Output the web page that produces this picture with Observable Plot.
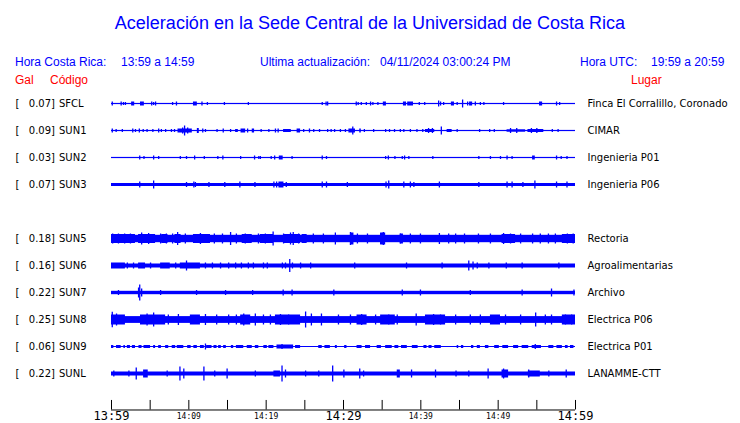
<!DOCTYPE html>
<html>
<head>
<meta charset="utf-8">
<script src="https://cdn.jsdelivr.net/npm/d3@7"></script>
<script src="https://cdn.jsdelivr.net/npm/@observablehq/plot@0.6"></script>
<style>
  html, body { margin: 0; padding: 0; background: #fff; }
  #page { position: relative; width: 740px; height: 423px; overflow: hidden; background: #fff; }
  .hdr { position: absolute; white-space: pre; font-family: "Liberation Sans", Arial, sans-serif; font-size: 12px; line-height: 12px; color: #0000ff; }
  .red { color: #ff0000; }
  #title { position: absolute; left: 0; width: 740px; text-align: center; top: 14px; font-family: "Liberation Sans", Arial, sans-serif; font-size: 18px; line-height: 18px; color: #0000ff; }
  #chart { position: absolute; left: 0; top: 90px; }
</style>
</head>
<body>
<div id="page">
  <div id="title"></div>
  <div id="chart"></div>
</div>
<script>
// ---- texts ----
const titleText = "Aceleración en la Sede Central de la Universidad de Costa Rica";
const localLabel = "Hora Costa Rica:";
const localRange = "13:59 a 14:59";
const updateLabel = "Ultima actualización:";
const updateValue = "04/11/2024 03:00:24 PM";
const utcLabel = "Hora UTC:";
const utcRange = "19:59 a 20:59";
const colGal = "Gal", colCode = "Código", colPlace = "Lugar";

// ---- stations ----
const codes  = ["SFCL", "SUN1", "SUN2", "SUN3", "SUN5", "SUN6", "SUN7", "SUN8", "SUN9", "SUNL"];
const places = ["Finca El Corralillo, Coronado", "CIMAR", "Ingenieria P01", "Ingenieria P06",
                "Rectoria", "Agroalimentarias", "Archivo", "Electrica P06", "Electrica P01", "LANAMME-CTT"];
const galMax = [0.07, 0.09, 0.03, 0.07, 0.18, 0.16, 0.22, 0.25, 0.06, 0.22];
const rowIndex = [0, 1, 2, 3, 5, 6, 7, 8, 9, 10];
// background noise half-amplitude of each trace (relative units, 27 = one row)
const noiseAmp = [0.6, 0.6, 0.6, 1.5, 3.7, 2, 1.7, 3.4, 0.5, 2];

// ---- envelope events: [minute, amp] spike or [minuteStart, minuteEnd, amp] burst ----
const evSFCL = [[0.1,2],[1.25,2],[1.55,1.5],[1.8,1.5],[2.6,3.0,2],[3.75,4.25,2],[5.2,2],[5.45,1.5],[5.7,2],[7.9,1.5],[8.4,2],[10.6,11.1,2],[11.7,2],[12.4,1.5],[14.6,1.5],[17.7,1.5],[27.25,1.5],[27.75,2],[27.95,2],[31.65,2],[31.9,1.5],[32.3,1.5],[32.95,1.5],[33.5,2],[33.8,1.5],[34.45,1.5],[35.15,35.55,2],[37.75,38.15,2],[38.3,39.05,2],[39.8,1.5],[40.5,1.5],[42.3,3],[42.55,2],[42.95,1.5],[43.95,44.35,2],[44.7,1.5],[45.4,4],[46.05,2],[46.3,46.7,2],[47.05,2],[47.7,1.5],[48.15,1.5],[50.7,1.5],[55.35,55.75,2],[57.55,2],[57.95,1.5]];
const evSUN1 = [[0.1,2],[0.6,1.5],[1.4,1.5],[2.75,2],[3.1,1.5],[3.6,2],[4.1,1.5],[4.6,1.5],[5.35,1.5],[6.1,2],[6.45,1.5],[7.0,1.5],[7.75,1.5],[8.15,1.5],[8.6,10.45,2],[9.45,5],[9.2,3],[9.85,3],[11.1,11.35,2.5],[11.8,2],[12.15,1.5],[13.65,1.5],[14.45,2],[15.4,1.5],[16.05,16.4,1.5],[16.75,17.35,2],[17.6,2],[18.2,18.5,2],[19.35,1.5],[20.35,1.5],[21.2,2],[21.55,2],[22.25,23.25,1.5],[24.0,24.45,2],[24.85,1.5],[25.6,2],[26.15,1.5],[26.9,1.5],[27.95,1.5],[28.4,1.5],[28.85,1.5],[29.6,1.5],[30.25,1.5],[30.7,31.55,2],[31.2,4],[32.1,32.3,2],[32.7,1.5],[33.9,1.5],[35.45,1.5],[35.95,1.5],[36.6,1.5],[37.35,1.5],[37.8,1.5],[38.65,1.5],[39.5,1.5],[40.25,1.5],[40.6,41.8,1.5],[41.0,2.5],[41.5,2.5],[42.65,4],[43.4,44.05,1.5],[44.7,1.5],[47.6,1.5],[48.9,1.5],[49.5,1.5],[51.15,53.55,1.2],[51.6,2.5],[52.4,2.5],[53.85,55.9,1.5],[54.3,2.5],[55.0,2.5],[57.0,1.5],[57.75,1.5]];
const evSUN2 = [[3.65,2],[4.2,1.5],[5.45,2],[6.1,1.5],[8.9,1.5],[9.7,1.5],[10.75,2],[12.0,1.5],[13.75,1.5],[14.4,2],[16.7,1.5],[18.5,2],[19.05,1.5],[19.25,1.5],[20.65,1.5],[21.1,2],[21.7,22.2,2],[23.35,1.5],[27.25,2],[27.8,1.5],[35.45,1.5],[35.8,2],[36.65,1.5],[37.6,1.5],[37.9,2],[38.45,1.5],[41.55,1.5],[47.5,1.5],[49.0,1.5],[50.3,1.5],[51.15,2],[51.8,1.5],[54.45,54.8,2],[57.55,2],[58.15,1.5],[58.9,1.5]];
const evSUN3 = [[3.65,3],[5.45,4],[9.7,2.5],[10.65,3],[10.85,2.5],[12.6,2.5],[14.65,2.5],[16.6,3],[18.55,2.5],[21.0,3],[21.35,3],[21.65,22.3,3],[22.6,2.5],[27.25,3],[27.8,3],[30.5,2.5],[35.5,3],[35.85,4],[37.8,3],[38.65,3],[39.1,2.5],[42.4,3],[47.5,2.5],[51.15,3],[51.8,3],[53.2,2.5],[54.75,4],[57.55,3],[58.9,3]];
const evSUN5 = [[0,3.1,4.5],[3.5,5.7,4.5],[6.5,7.3,4.5],[8.2,9.0,4.5],[10.6,12.8,4.5],[16.9,18.2,4.5],[19.25,20.95,4.5],[22.25,24.45,4.5],[24.65,25.3,4.5],[30.9,31.35,6],[34.8,35.45,6],[37.35,37.75,5],[50.5,52.25,4.5],[58.3,60,4.5],[0.15,5],[0.9,5],[1.7,5],[2.45,5],[3.9,6],[4.8,5.5],[6.35,5],[7.1,5],[7.9,5],[8.55,6.5],[9.55,5],[11.5,5.5],[13.3,5],[14.35,5],[15.4,6.5],[16.15,5],[17.3,5],[19.0,5],[19.9,5],[20.9,7],[22.25,5],[23.15,6],[23.5,6.5],[24.2,5],[26.1,5],[27.4,5],[28.95,6],[30.9,6.5],[31.8,5],[33.1,5],[34.8,5.5],[35.15,6.5],[37.35,5],[38.65,5],[39.95,5],[42.4,5.5],[43.6,5],[44.5,5],[45.65,5],[47.45,5],[49.0,5],[50.7,5.5],[51.6,5],[52.9,5],[54.45,5],[55.45,5],[56.5,5],[57.4,5],[58.95,5],[59.7,5]];
const evSUN6 = [[0,1.8,3],[3.5,4.4,3],[6.35,7.6,3],[8.9,11.5,3],[2.05,3],[2.85,3],[5.05,3],[8.3,3],[12.15,3],[13.05,3],[14.1,3],[15.15,3],[16.05,3],[16.8,3],[17.7,3],[18.35,3],[19.65,3],[20.15,3],[22.1,3],[22.5,3],[23.4,3],[24.45,3],[25.75,3],[31.45,3],[38.15,3],[42.75,3],[48.8,3],[51.05,3],[53.1,3],[57.85,3],[9.7,5],[23.05,6.5],[46.2,5],[46.75,4],[47.3,3]];
const evSUN7 = [[3.65,8],[3.5,5],[3.9,4],[0.9,2.5],[6.35,2.5],[11.0,2.5],[14.75,2.5],[18.25,2.5],[22.2,3],[23.35,3],[28.75,3],[37.6,3],[39.95,3],[46.4,2.5],[53.1,3],[56.9,4],[59.8,3]];
const evSUN8 = [[0,1.8,5],[3.75,7.0,5],[10.2,11.5,5],[16.7,18.0,5],[21.2,24.45,5],[31.75,33.05,5],[34.8,36.7,5],[40.6,43.2,5],[49.0,50.3,5],[58.3,60,5],[0.1,7.7],[0.65,6],[4.6,6],[5.45,7],[7.35,5],[8.65,5.5],[12.15,5.5],[13.6,5],[15.15,5],[16.15,5],[17.1,6],[18.6,6],[19.65,5],[20.55,5],[21.85,5.5],[22.9,5],[25.1,8],[25.85,6],[27.15,6],[29.35,5],[30.9,5],[32.35,5.5],[34.15,5],[35.85,5],[36.95,5],[39.4,6],[41.65,5.5],[42.55,5],[44.5,5],[46.4,5],[47.7,5],[50.95,5],[52.9,5],[54.85,7],[56.1,5],[56.9,5],[58.7,5],[59.5,5]];
const evSUN9 = [[0,0.3,1.5],[0.65,1.25,1.5],[1.6,1.8,1.5],[2.05,2.45,1.5],[2.7,3.1,1.5],[3.55,3.95,1.5],[4.2,5.05,1.5],[5.45,5.7,1.5],[6.1,6.45,1.5],[7.0,7.4,1.5],[7.85,8.3,1.5],[8.5,9.35,1.5],[9.85,10.3,1.5],[10.65,11.1,1.5],[11.5,12.0,1.5],[12.3,13.0,1.5],[13.25,13.65,1.5],[13.85,14.2,1.5],[14.5,14.85,1.5],[15.5,15.8,1.5],[16.15,17.1,1.5],[17.55,18.2,1.5],[18.6,19.05,1.5],[19.7,20.15,1.5],[20.35,21.0,1.5],[21.4,23.55,2],[23.8,24.45,1.5],[26.8,27.25,1.5],[27.6,28.3,1.5],[28.95,29.2,1.5],[30.15,30.45,1.5],[31.75,32.4,1.5],[32.85,33.5,1.5],[34.35,34.9,1.5],[35.45,36.3,1.5],[36.65,37.15,1.5],[37.5,38.25,1.5],[38.9,39.65,1.5],[40.4,40.8,1.5],[41.05,41.45,1.5],[41.8,42.65,1.5],[44.7,44.9,1.5],[45.25,45.55,1.5],[46.55,46.85,1.5],[47.3,47.7,1.5],[48.35,48.8,1.5],[49.55,50.15,1.5],[50.6,51.35,1.5],[52.0,52.65,1.5],[53.1,53.95,1.5],[54.4,55.6,1.5],[56.55,57.2,1.5],[57.6,58.3,1.5],[58.7,59.05,1.5],[59.35,59.8,1.5],[12.15,3],[22.05,2.5],[54.8,2.5]];
const evSUNL = [[4.15,4.75,4],[21.0,21.85,3],[36.95,37.35,4],[50.5,51.35,4],[53.9,55.45,3],[0.3,3],[2.25,3],[3.2,6],[7.2,3],[8.85,7],[9.35,5],[11.95,7],[13.35,3],[14.95,5],[18.6,3],[22.05,8],[22.5,4],[25.1,3],[26.8,3],[28.6,8],[30.05,4],[32.1,5],[32.6,3],[38.8,4],[41.9,4],[44.55,3],[46.2,3],[48.7,5],[50.7,5],[53.95,4],[56.55,3],[58.8,4]];
const stationEvents = [evSFCL, evSUN1, evSUN2, evSUN3, evSUN5, evSUN6, evSUN7, evSUN8, evSUN9, evSUNL];

// ---- time axis ----
const tickMinutes = [0, 5, 10, 15, 20, 25, 30, 35, 40, 45, 50, 55, 60];
const bigLabelMinutes = [0, 30, 60];
const bigLabels = ["13:59", "14:29", "14:59"];
const smallLabelMinutes = [10, 20, 40, 50];
const smallLabels = ["14:09", "14:19", "14:39", "14:49"];

// ---- header (HTML) ----
const page = document.getElementById("page");
document.getElementById("title").textContent = titleText;
function hdr(text, left, top, cls) {
  const d = document.createElement("div");
  d.className = "hdr" + (cls ? " " + cls : "");
  d.style.left = left + "px";
  d.style.top = top + "px";
  d.textContent = text;
  page.appendChild(d);
}
hdr(localLabel, 15, 56);
hdr(localRange, 121, 56);
hdr(updateLabel, 260, 56);
hdr(updateValue, 380, 56);
hdr(utcLabel, 580, 56);
hdr(utcRange, 651, 56);
hdr(colGal, 15, 74, "red");
hdr(colCode, 50, 74, "red");
hdr(colPlace, 631, 74, "red");

// ---- build tables ----
const ROW = 27; // amplitude units per row
const stations = codes.map((c, i) => ({code: c, place: places[i], gal: galMax[i], row: rowIndex[i], base: noiseAmp[i]}));
const flat = [];
stations.forEach((s, i) => stationEvents[i].forEach(e => {
  flat.push({row: s.row, t0: e[0], t1: e.length === 3 ? e[1] : e[0], a: e[e.length - 1]});
}));
const bursts = flat.filter(d => d.t1 > d.t0);
const spikes = flat.filter(d => d.t1 === d.t0);

const axisRow = 11.333, tickTopRow = 10.98;
const BLUE = "#0000ff";
const FONT = "DejaVu Sans";

const chart = Plot.plot({
  width: 740,
  height: 333,
  margin: 0,
  x: {domain: [0, 60], range: [111, 575], axis: null},
  y: {domain: [0, 10], range: [13.5, 283.5], axis: null},
  style: {background: "white", overflow: "visible"},
  marks: [
    // background noise band
    Plot.rect(stations, {x1: () => 0, x2: () => 60, y1: d => d.row - d.base / ROW, y2: d => d.row + d.base / ROW, fill: BLUE}),
    // bursts
    Plot.rect(bursts, {x1: "t0", x2: "t1", y1: d => d.row - d.a / ROW, y2: d => d.row + d.a / ROW, fill: BLUE}),
    // spikes
    Plot.ruleX(spikes, {x: "t0", y1: d => d.row - d.a / ROW, y2: d => d.row + d.a / ROW, stroke: BLUE, strokeWidth: 1.3}),
    // left labels
    Plot.text(stations, {x: () => 0, y: "row", text: () => "[", dx: -96, textAnchor: "start", fontFamily: FONT, fontSize: 10, fill: "black"}),
    Plot.text(stations, {x: () => 0, y: "row", text: d => d.gal.toFixed(2) + "]", dx: -56.5, textAnchor: "end", fontFamily: FONT, fontSize: 10, fill: "black"}),
    Plot.text(stations, {x: () => 0, y: "row", text: "code", dx: -52.5, textAnchor: "start", fontFamily: FONT, fontSize: 10, fill: "black"}),
    // right labels
    Plot.text(stations, {x: () => 60, y: "row", text: "place", dx: 12, textAnchor: "start", fontFamily: FONT, fontSize: 10, fill: "black"}),
    // time axis
    Plot.ruleY([axisRow], {x1: () => 0, x2: () => 60, stroke: "black"}),
    Plot.ruleX(tickMinutes, {y1: () => tickTopRow, y2: () => axisRow, stroke: "black"}),
    Plot.text(bigLabelMinutes, {x: d => d, y: () => axisRow, text: (d, i) => bigLabels[i], dy: 6.5, fontFamily: "DejaVu Sans Mono", fontSize: 12, fill: "black"}),
    Plot.text(smallLabelMinutes, {x: d => d, y: () => axisRow, text: (d, i) => smallLabels[i], dy: 6.5, fontFamily: "DejaVu Sans Mono", fontSize: 8, fill: "black"})
  ]
});
document.getElementById("chart").appendChild(chart);
</script>
</body>
</html>
